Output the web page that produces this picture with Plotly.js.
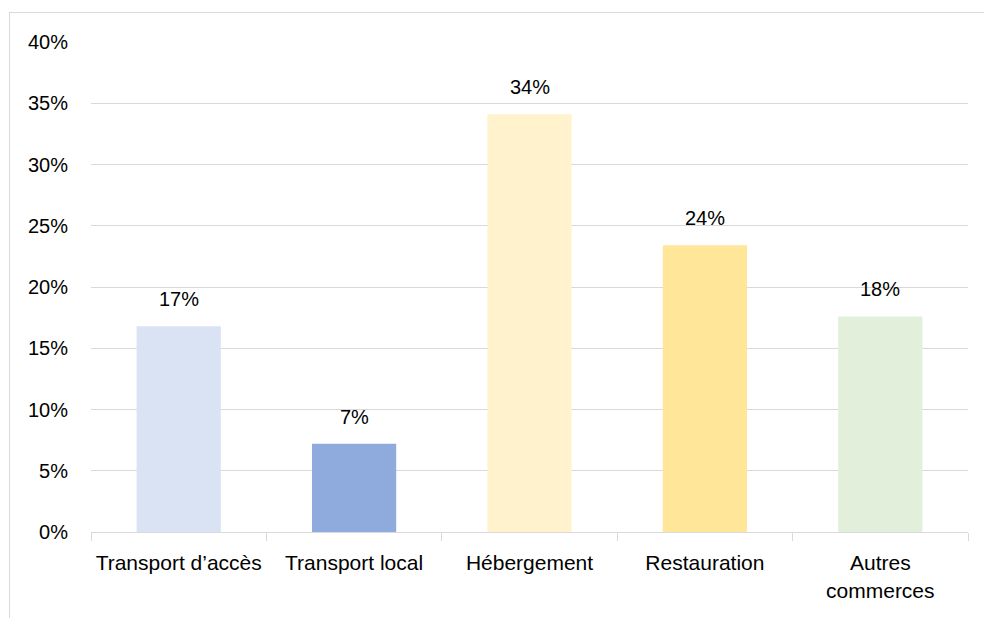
<!DOCTYPE html>
<html>
<head>
<meta charset="utf-8">
<script src="https://cdn.plot.ly/plotly-3.0.1.min.js"></script>
<style>
  html, body { margin: 0; padding: 0; background: #fff; }
  #wrap { position: relative; width: 984px; height: 618px; overflow: hidden; }
  #chart { position: absolute; left: 0; top: 0; width: 984px; height: 618px; }
  #frame { position: absolute; left: 9px; top: 12px; width: 1000px; height: 700px;
           border-left: 1px solid #D9D9D9; border-top: 1px solid #D9D9D9; pointer-events: none; }
</style>
</head>
<body>
<div id="wrap">
  <div id="chart"></div>
  <div id="frame"></div>
</div>
<script>
const categories = ["Transport d’accès", "Transport local", "Hébergement", "Restauration", "Autres<br>commerces"];
const values = [16.8, 7.2, 34.1, 23.4, 17.6];
const valueLabels = ["17%", "7%", "34%", "24%", "18%"];
const barColors = ["#DAE3F3", "#8FAADC", "#FFF2CC", "#FFE699", "#E2EFDA"];
const yTickValues = [0, 5, 10, 15, 20, 25, 30, 35, 40];

const fontFamily = "Liberation Sans, Arial, sans-serif";

const trace = {
  type: "bar",
  x: categories,
  y: values,
  marker: { color: barColors, line: { width: 0 } },
  hoverinfo: "skip"
};

const annotations = categories.map((c, i) => ({
  x: c, y: values[i], xref: "x", yref: "y",
  text: valueLabels[i], showarrow: false,
  yanchor: "bottom", yshift: 14,
  font: { family: fontFamily, size: 20, color: "#000000" }
}));

const layout = {
  width: 984, height: 618,
  margin: { l: 91, r: 16, t: 42, b: 86 },
  paper_bgcolor: "#FFFFFF",
  plot_bgcolor: "#FFFFFF",
  showlegend: false,
  bargap: 0.52,
  font: { family: fontFamily, color: "#000000" },
  xaxis: {
    type: "category",
    tickson: "boundaries",
    tickangle: 0,
    ticks: "outside", ticklen: 8, tickcolor: "#D9D9D9", tickwidth: 1,
    showline: true, linecolor: "#D9D9D9", linewidth: 1,
    showgrid: false, zeroline: false,
    tickfont: { family: fontFamily, size: 21, color: "#000000" },
    ticklabelstandoff: 12
  },
  yaxis: {
    range: [0, 40],
    tickvals: yTickValues,
    ticktext: yTickValues.map(v => v + "%"),
    showgrid: true, gridcolor: "#D9D9D9", gridwidth: 1,
    zeroline: false, showline: false, ticks: "",
    tickfont: { family: fontFamily, size: 20, color: "#000000" },
    ticklabelstandoff: 22
  },
  annotations: annotations
};

Plotly.newPlot("chart", [trace], layout, { staticPlot: true, displayModeBar: false });
</script>
</body>
</html>
